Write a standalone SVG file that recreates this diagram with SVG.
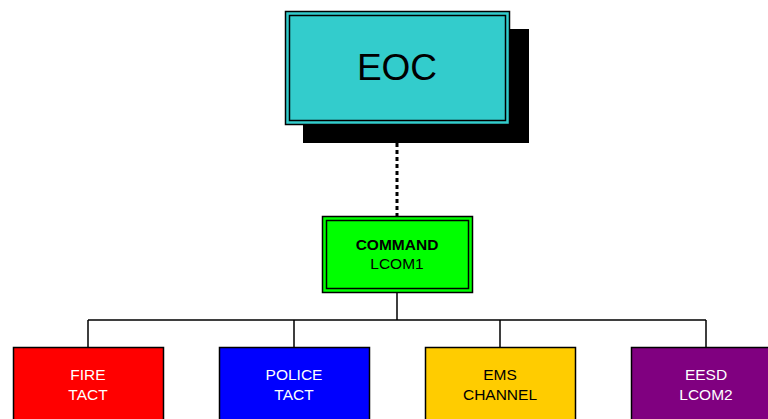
<svg xmlns="http://www.w3.org/2000/svg" width="768" height="419" viewBox="0 0 768 419">
<style>
.t{font-family:"Liberation Sans",Arial,sans-serif;text-anchor:middle}
.w{fill:#fff;font-size:15.5px}
.k{fill:#000;font-size:15.5px}
.ln{stroke:#000;stroke-width:1.5;fill:none}
.box{stroke:#000;stroke-width:1.5}
</style>
<rect width="768" height="419" fill="#fff"/>
<g id="connectors">
<line x1="397" y1="143" x2="397" y2="216" stroke="#000" stroke-width="3" stroke-dasharray="4,3"/>
<path class="ln" d="M397 293V320M88 320H706M88 320V347M294 320V347M500 320V347M706 320V347"/>
</g>
<g id="eoc">
<rect x="303" y="29" width="226" height="114" fill="#000"/>
<rect x="285.5" y="11.5" width="224" height="113" fill="#33CCCC" stroke="#000" stroke-width="1.5"/>
<rect x="289.5" y="15.5" width="216" height="105" fill="none" stroke="#000" stroke-width="1.5"/>
<text class="t" x="397" y="80" font-size="37">EOC</text>
</g>
<g id="command">
<rect x="322.5" y="216.5" width="150" height="76" fill="#00FF00" stroke="#000" stroke-width="1.5"/>
<rect x="326.5" y="220.5" width="142" height="68" fill="none" stroke="#000" stroke-width="1.5"/>
<text class="t k" x="397" y="250" font-weight="bold">COMMAND</text>
<text class="t k" x="397" y="269">LCOM1</text>
</g>
<g id="fire">
<rect class="box" x="13.5" y="347.5" width="150" height="80" fill="#FF0000"/>
<text class="t w" x="88" y="380">FIRE</text>
<text class="t w" x="88" y="400">TACT</text>
</g>
<g id="police">
<rect class="box" x="219.5" y="347.5" width="150" height="80" fill="#0000FF"/>
<text class="t w" x="294" y="380">POLICE</text>
<text class="t w" x="294" y="400">TACT</text>
</g>
<g id="ems">
<rect class="box" x="425.5" y="347.5" width="150" height="80" fill="#FFCC00"/>
<text class="t k" x="500" y="380">EMS</text>
<text class="t k" x="500" y="400">CHANNEL</text>
</g>
<g id="eesd">
<rect class="box" x="631.5" y="347.5" width="150" height="80" fill="#800080"/>
<text class="t w" x="706" y="380">EESD</text>
<text class="t w" x="706" y="400">LCOM2</text>
</g>
</svg>
